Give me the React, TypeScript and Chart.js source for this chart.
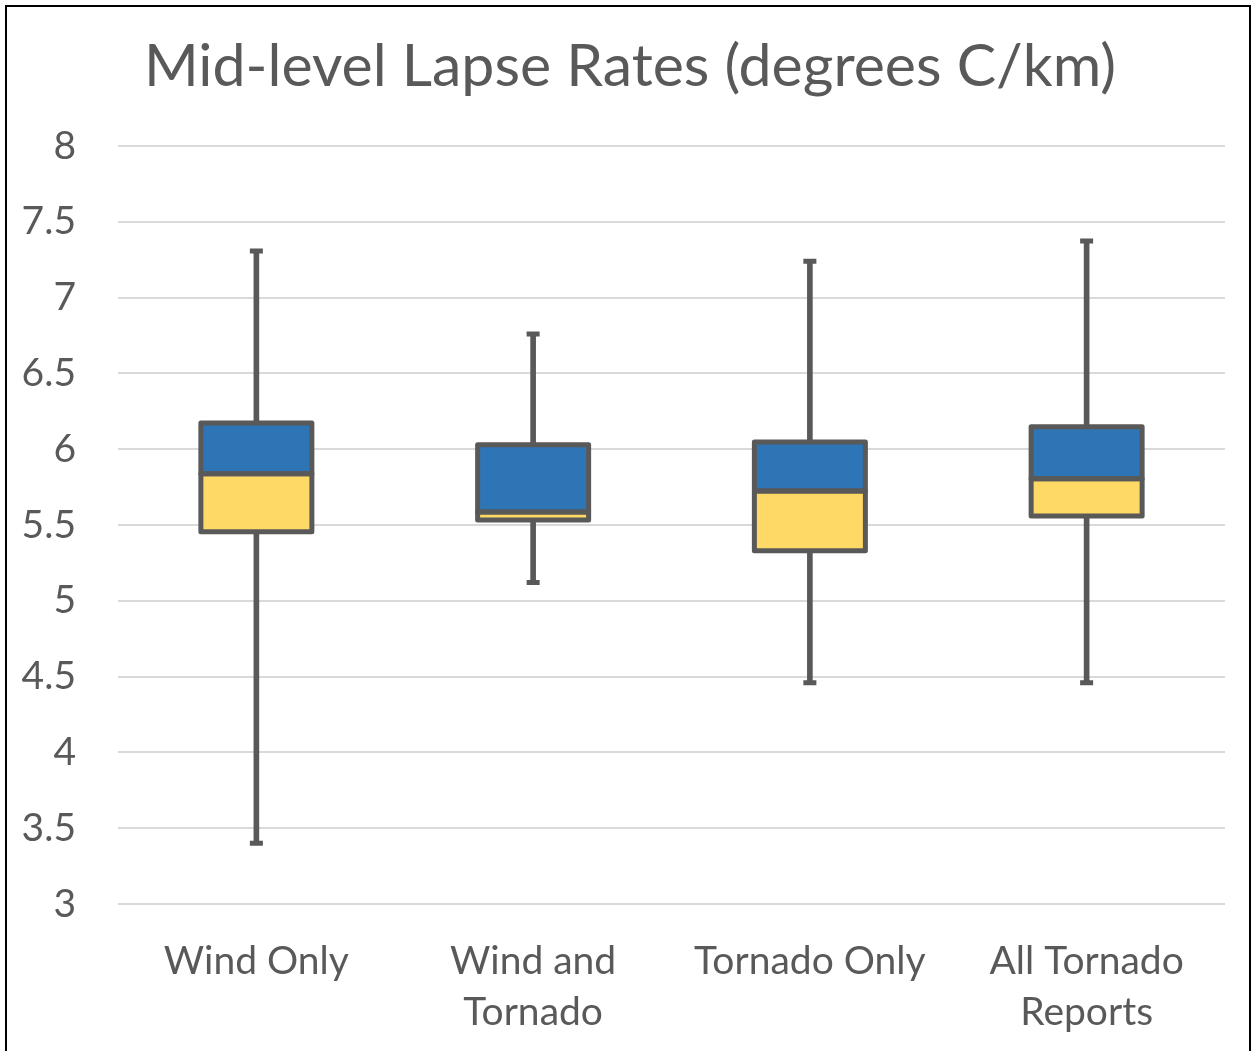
import React, { useEffect, useRef } from "react";
import { Chart, registerables } from "chart.js";

Chart.register(...registerables);

// ---- data ----
const categories: string[][] = [["Wind Only"], ["Wind and", "Tornado"], ["Tornado Only"], ["All Tornado", "Reports"]];
const whiskerMin = [3.4, 5.12, 4.46, 4.46];
const q1 = [5.455, 5.533, 5.33, 5.56];
const median = [5.838, 5.586, 5.725, 5.805];
const q3 = [6.172, 6.03, 6.048, 6.148];
const whiskerMax = [7.307, 6.76, 7.24, 7.373];
const yMin = 3;
const yMax = 8;
const yStep = 0.5;

const titleText = "Mid-level Lapse Rates (degrees C/km)";

const GRAY = "#595959";
const BLUE = "#2E75B6";
const YELLOW = "#FFD966";
const GRID = "#D9D9D9";
const FONT = "Lato, 'Open Sans', sans-serif";

const boxOutline = {
  id: "boxOutline",
  afterDatasetsDraw(chart: any) {
    const ctx = chart.ctx;
    ctx.save();
    ctx.strokeStyle = GRAY;
    ctx.lineWidth = 5;
    ctx.lineJoin = "round";
    chart.data.datasets.forEach((ds: any, i: number) => {
      if (!ds.isBox) return;
      chart.getDatasetMeta(i).data.forEach((el: any) => {
        const p = el.getProps(["x", "y", "base", "width"], true);
        const top = Math.min(p.y, p.base);
        const h = Math.abs(p.base - p.y);
        ctx.strokeRect(p.x - p.width / 2, top, p.width, h);
      });
    });
    ctx.restore();
  },
};

export default function App() {
  const ref = useRef<HTMLCanvasElement | null>(null);

  useEffect(() => {
    if (!ref.current) return;
    const chart = new Chart(ref.current, {
      type: "bar",
      data: {
        labels: categories,
        datasets: [
          {
            type: "line",
            label: "max cap",
            data: whiskerMax,
            showLine: false,
            pointStyle: "line",
            pointRadius: 6.5,
            pointHoverRadius: 6.5,
            pointBorderWidth: 5,
            pointBorderColor: GRAY,
            borderColor: GRAY,
            order: 0,
          } as any,
          {
            type: "line",
            label: "min cap",
            data: whiskerMin,
            showLine: false,
            pointStyle: "line",
            pointRadius: 6.5,
            pointHoverRadius: 6.5,
            pointBorderWidth: 5,
            pointBorderColor: GRAY,
            borderColor: GRAY,
            order: 0,
          } as any,
          {
            label: "Q3 box",
            data: median.map((m, i) => [m, q3[i]]),
            backgroundColor: BLUE,
            borderWidth: 0,
            grouped: false,
            barThickness: 111,
            isBox: true,
            order: 1,
          } as any,
          {
            label: "Q1 box",
            data: q1.map((v, i) => [v, median[i]]),
            backgroundColor: YELLOW,
            borderWidth: 0,
            grouped: false,
            barThickness: 111,
            isBox: true,
            order: 1,
          } as any,
          {
            label: "whisker",
            data: whiskerMin.map((v, i) => [v, whiskerMax[i]]),
            backgroundColor: GRAY,
            borderWidth: 0,
            grouped: false,
            barThickness: 5,
            order: 3,
          } as any,
        ],
      },
      options: {
        responsive: false,
        animation: false,
        devicePixelRatio: 1,
        layout: { padding: { left: 0, right: 30, top: 146, bottom: 0 } },
        plugins: {
          legend: { display: false },
          tooltip: { enabled: false },
          title: { display: false },
        },
        scales: {
          x: {
            grid: { display: false, drawTicks: false },
            border: { display: false },
            ticks: {
              color: GRAY,
              font: { family: FONT, size: 39, lineHeight: 1.3 },
              padding: 32,
              maxRotation: 0,
              autoSkip: false,
            },
            afterFit: (s: any) => {
              s.height = 147;
            },
          },
          y: {
            min: yMin,
            max: yMax,
            grid: { color: GRID, lineWidth: 2, drawTicks: false },
            border: { display: false },
            ticks: {
              stepSize: yStep,
              color: GRAY,
              font: { family: FONT, size: 39 },
              padding: 42,
              callback: (v: any) => String(Number(v)),
            },
            afterFit: (s: any) => {
              s.width = 118;
            },
          },
        },
      },
      plugins: [boxOutline],
    });
    return () => chart.destroy();
  }, []);

  return (
    <div
      style={{
        position: "absolute",
        left: 0,
        top: 0,
        width: 1255,
        height: 1051,
        overflow: "hidden",
        background: "#ffffff",
      }}
    >
      <canvas ref={ref} width={1255} height={1051} style={{ position: "absolute", left: 0, top: 0 }} />
      <div
        style={{
          position: "absolute",
          left: 0,
          top: 28,
          width: 1260,
          height: 72,
          lineHeight: "72px",
          textAlign: "center",
          fontFamily: FONT,
          fontSize: 59,
          color: GRAY,
          whiteSpace: "nowrap",
        }}
      >
        {titleText}
      </div>
      <div
        style={{
          position: "absolute",
          left: 5,
          top: 5,
          width: 1246,
          height: 1100,
          border: "2px solid #000",
          boxSizing: "border-box",
          pointerEvents: "none",
        }}
      />
    </div>
  );
}
